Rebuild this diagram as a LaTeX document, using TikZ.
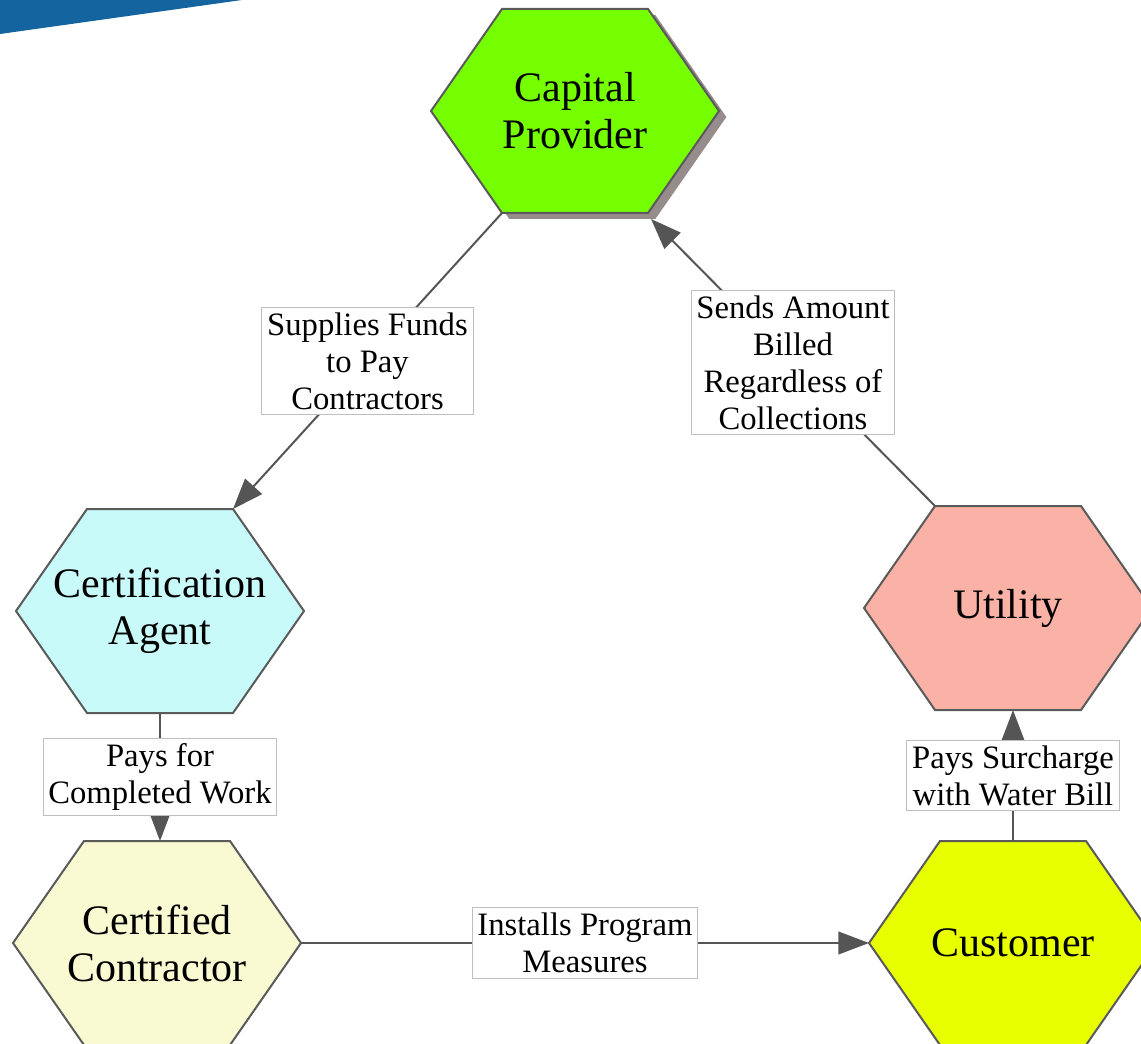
\documentclass[tikz,border=0pt]{standalone}
\usepackage{fontspec}
\setmainfont{Liberation Serif}
\usetikzlibrary{arrows.meta,shadows}

\definecolor{capgreen}{RGB}{118,255,0}
\definecolor{agentcyan}{RGB}{200,250,250}
\definecolor{utilsalmon}{RGB}{250,178,166}
\definecolor{custyellow}{RGB}{232,255,0}
\definecolor{contrcream}{RGB}{250,250,210}
\definecolor{hexgray}{RGB}{90,90,90}
\definecolor{edgegray}{RGB}{85,85,85}
\definecolor{lblgray}{RGB}{190,190,190}
\definecolor{hexshade}{RGB}{150,140,140}
\definecolor{swoosh}{RGB}{20,100,160}

\tikzset{
    hexline/.style={draw=hexgray, line width=1.5pt, line join=miter},
    hextext/.style={align=center, inner sep=0pt, font=\fontsize{31.5}{35.25}\selectfont},
    edge/.style={draw=edgegray, line width=1.5pt, -{Triangle[length=23pt,width=17pt]}},
    lbl/.style={fill=white, draw=lblgray, line width=0.75pt, inner sep=4pt,
        align=center, font=\fontsize{24.5}{27.75}\selectfont}
}

% name, x, y, colour, text
\newcommand{\hexnode}[6][]{%
    \draw[hexline, fill=#5, #1] (#3-144,#4) coordinate (#2-w)
        -- (#3-73,#4-102) coordinate (#2-nw)
        -- (#3+73,#4-102) coordinate (#2-ne)
        -- (#3+144,#4) coordinate (#2-e)
        -- (#3+73,#4+102) coordinate (#2-se)
        -- (#3-73,#4+102) coordinate (#2-sw) -- cycle;
    \coordinate (#2-n) at (#3,#4-102);
    \coordinate (#2-s) at (#3,#4+102);
    \node[hextext] (#2) at (#3,#4) {#6};
}

\begin{document}
\begin{tikzpicture}[x=0.75pt, y=-0.75pt]
    \useasboundingbox (0,0) rectangle (1141,1044);
    \fill[white] (0,0) rectangle (1141,1044);
    \fill[swoosh] (0,0) -- (242,0) -- (0,34) -- cycle;

    \hexnode[drop shadow={shadow xshift=5.5pt, shadow yshift=-4.5pt, fill=hexshade, opacity=1}]
        {cp}{575}{111}{capgreen}{Capital\\Provider}
    \hexnode{ca}{160}{611}{agentcyan}{Certification\\Agent}
    \hexnode{ut}{1008}{608}{utilsalmon}{Utility}
    \hexnode{cc}{157}{943}{contrcream}{Certified\\Contractor}
    \hexnode{cu}{1013}{943}{custyellow}{Customer}

    \draw[edge] (cp-sw) -- node[lbl] {Supplies Funds\\to Pay\\Contractors} (ca-ne);
    \draw[edge] (ut-nw) -- node[lbl] {Sends Amount\\Billed\\Regardless of\\Collections} ([shift={(3,6)}]cp-se);
    \draw[edge] (ca-s) -- node[lbl] {Pays for\\Completed Work} (ca-s |- cc-n);
    \draw[edge] (cu-n) -- node[lbl] {Pays Surcharge\\with Water Bill} (cu-n |- ut-s);
    \draw[edge] (cc-e) -- node[lbl] {Installs Program\\Measures} (cu-w);
\end{tikzpicture}
\end{document}
